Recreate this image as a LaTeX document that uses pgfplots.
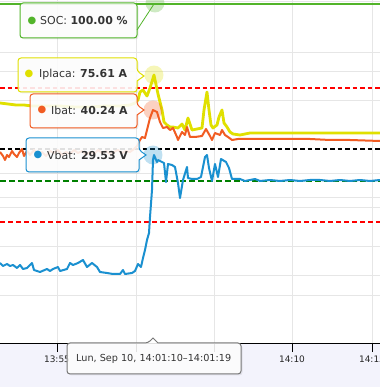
\documentclass[border=0pt]{standalone}
\usepackage{pgfplots}
\pgfplotsset{compat=1.18}
\usepackage{fontspec}
\setmainfont{DejaVu Sans}
\definecolor{cY}{RGB}{224,224,0}
\definecolor{cO}{RGB}{241,92,34}
\definecolor{cB}{RGB}{26,144,208}
\definecolor{cS}{RGB}{82,180,42}
\definecolor{cDG}{RGB}{0,128,0}
\definecolor{cGrid}{RGB}{230,230,230}
\definecolor{cLav}{RGB}{243,243,252}
\definecolor{cTxt}{RGB}{51,51,51}
\definecolor{cTipB}{RGB}{120,120,120}
\begin{document}
\begin{tikzpicture}
\useasboundingbox (0,-44bp) rectangle (380bp,343bp);
\fill[white] (0,0) rectangle (380bp,343bp);
\fill[cLav] (0,-44bp) rectangle (380bp,0);
\begin{axis}[at={(0,0)}, anchor=south west,
  width=380bp, height=343bp, scale only axis,
  xmin=0, xmax=380, ymin=0, ymax=343,
  axis line style={draw=none},
  xtick={57,136,214,292,372},
  xticklabels={13:55,,,14:10,14:15},
  xtick pos=left, xtick align=outside, major tick length=9bp,
  xtick style={black, line width=1bp},
  xticklabel style={font=\fontsize{9}{10}\selectfont, text=black!85},
  ytick={341,290,271,242,169,145,135,96,67,48},
  yticklabels={}, ytick style={draw=none},
  xmajorgrids, ymajorgrids,
  grid style={cGrid, line width=1bp},
  every axis plot/.append style={line join=round},
]
% plot lines (thresholds)
\addplot[red, line width=1.3bp, dash pattern=on 4.5bp off 3bp] coordinates {(0,255) (380,255)};
\addplot[black, line width=1.3bp, dash pattern=on 4.5bp off 3bp] coordinates {(0,194) (380,194)};
\addplot[cDG, line width=2bp, dash pattern=on 6bp off 3bp] coordinates {(0,162) (380,162)};
\addplot[red, line width=1.6bp, dash pattern=on 5bp off 3bp] coordinates {(0,121) (380,121)};
% halos
\addplot[cS, only marks, mark=*, mark size=9.5, fill opacity=0.28, draw opacity=0, mark options={fill=cS}] coordinates {(155,340)};
\addplot[cY, only marks, mark=*, mark size=9.5, fill opacity=0.28, draw opacity=0, mark options={fill=cY}] coordinates {(154,268)};
\addplot[cO, only marks, mark=*, mark size=9.5, fill opacity=0.28, draw opacity=0, mark options={fill=cO}] coordinates {(153,233)};
\addplot[cB, only marks, mark=*, mark size=9.5, fill opacity=0.28, draw opacity=0, mark options={fill=cB}] coordinates {(153,188)};
% SOC
\addplot[cS, line width=2bp] coordinates {(0,339) (380,339)};
% Iplaca
\addplot[cY, line width=2.8bp] table[y expr=343-\thisrowno{1}] {
x y
0 103
8 104
16 105
24 105
32 106
45 106
60 106
75 107
90 107
105 106
120 106
130 105
135 103
138 100
140 92
143 90
147 96
150 88
154 75
158 94
162 110
164 122
167 125
170 127
173 127
178 128
182 124
185 130
188 118
192 130
197 129
202 128
204 110
207 92
209 110
211 125
213 128
217 125
219 117
222 110
224 123
227 127
230 132
233 134
240 135
245 134
250 133
260 133
275 133
290 133
305 133
320 133
335 133
350 133
365 133
380 133
};
% Ibat
\addplot[cO, line width=2bp] table[y expr=343-\thisrowno{1}] {
x y
0 152
3 156
5 160
7 155
9 157
12 151
14 154
17 157
19 153
22 149
24 156
27 151
30 155
34 150
38 154
42 152
46 156
50 151
54 153
58 150
62 155
66 152
70 154
74 150
78 153
82 151
86 155
90 152
94 154
98 150
102 153
106 151
110 154
114 152
118 150
122 153
126 151
130 152
134 149
137 146
140 140
142 137
145 138
147 130
150 118
153 110
157 112
160 122
163 128
167 127
170 130
173 128
177 137
178 140
182 132
185 135
187 127
190 137
195 137
202 136
206 129
210 136
212 140
215 133
220 135
222 130
225 135
228 137
232 140
238 139
250 139
270 139
290 139
310 139
330 140
350 140
380 141
};
% Vbat
\addplot[cB, line width=2bp] table[y expr=343-\thisrowno{1}] {
x y
0 263
3 266
7 264
10 266
13 265
17 268
20 265
23 269
27 268
32 263
34 270
40 272
47 269
50 271
53 269
58 267
60 271
67 269
70 263
73 265
78 263
83 260
87 267
92 263
97 267
100 272
107 273
113 274
120 274
123 270
125 274
132 273
135 271
138 264
141 267
143 258
145 250
147 240
149 233
150 217
152 190
153 160
154 155
157 162
158 160
162 162
164 163
166 182
168 164
172 165
175 167
178 183
180 198
183 180
187 167
188 178
192 179
197 179
201 177
205 157
207 155
209 168
212 181
215 164
218 177
221 159
226 162
229 168
232 179
240 179
245 181
250 180
255 179
260 181
270 180
280 181
290 180
300 181
310 180
320 180
330 181
340 180
350 181
360 180
370 181
380 180
};
\end{axis}
\begin{scope}[x=1bp, y=-1bp, shift={(0bp,343bp)}, font=\fontsize{11}{13}\selectfont]
\tikzset{tip/.style={fill=white, fill opacity=0.88, line width=1bp, rounded corners=3bp},
         shad/.style={fill=black, fill opacity=0.07, draw=none, rounded corners=3bp},
         dot/.style={font=\fontsize{10}{10}\selectfont, inner sep=0},
         lab/.style={anchor=west, text=cTxt, inner sep=0}}
\draw[black, line width=1bp] (0,343.5) -- (380,343.5);
% SOC
\fill[shad] (21.5,4.5) rectangle (138.5,39.5);
\draw[tip, draw=cS] (20,3) rectangle (137,38);
\draw[cS, line width=0.8bp] (137,30) -- (154,4);
\node[dot, text=cS] at (32,21) {●};
\node[lab] at (40,21) {SOC: \textbf{100.00 \%}};
% Iplaca
\fill[shad] (19.5,59.5) rectangle (138.5,93.5);
\draw[tip, draw=cY] (18,58) -- (137,58) -- (137,71) [sharp corners] -- (144,76) -- (137,81) [rounded corners=3bp] -- (137,92) -- (18,92) -- cycle;
\node[dot, text=cY] at (29,74) {●};
\node[lab] at (39,74) {Iplaca: \textbf{75.61 A}};
% Ibat
\fill[shad] (31.5,95.5) rectangle (138.5,129.5);
\draw[tip, draw=cO] (30,94) -- (137,94) -- (137,105) [sharp corners] -- (144,110) -- (137,115) [rounded corners=3bp] -- (137,128) -- (30,128) -- cycle;
\node[dot, text=cO] at (42,110) {●};
\node[lab] at (51,110) {Ibat: \textbf{40.24 A}};
% Vbat
\fill[shad] (27.5,139.5) rectangle (140.5,173.5);
\draw[tip, draw=cB] (26,138) -- (139,138) -- (139,150) [sharp corners] -- (146,155) -- (139,160) [rounded corners=3bp] -- (139,172) -- (26,172) -- cycle;
\node[dot, text=cB] at (38,155) {●};
\node[lab] at (47,155) {Vbat: \textbf{29.53 V}};
% date tooltip
\fill[shad] (68.5,344.5) rectangle (242.5,375.5);
\draw[tip, draw=cTipB] (67,343) -- (148,343) [sharp corners] -- (153,338) -- (158,343) [rounded corners=3bp] -- (241,343) -- (241,374) -- (67,374) -- cycle;
\node[lab, font=\fontsize{9.7}{11}\selectfont] at (76,359) {Lun, Sep 10, 14:01:10–14:01:19};
\end{scope}
\end{tikzpicture}
\end{document}
